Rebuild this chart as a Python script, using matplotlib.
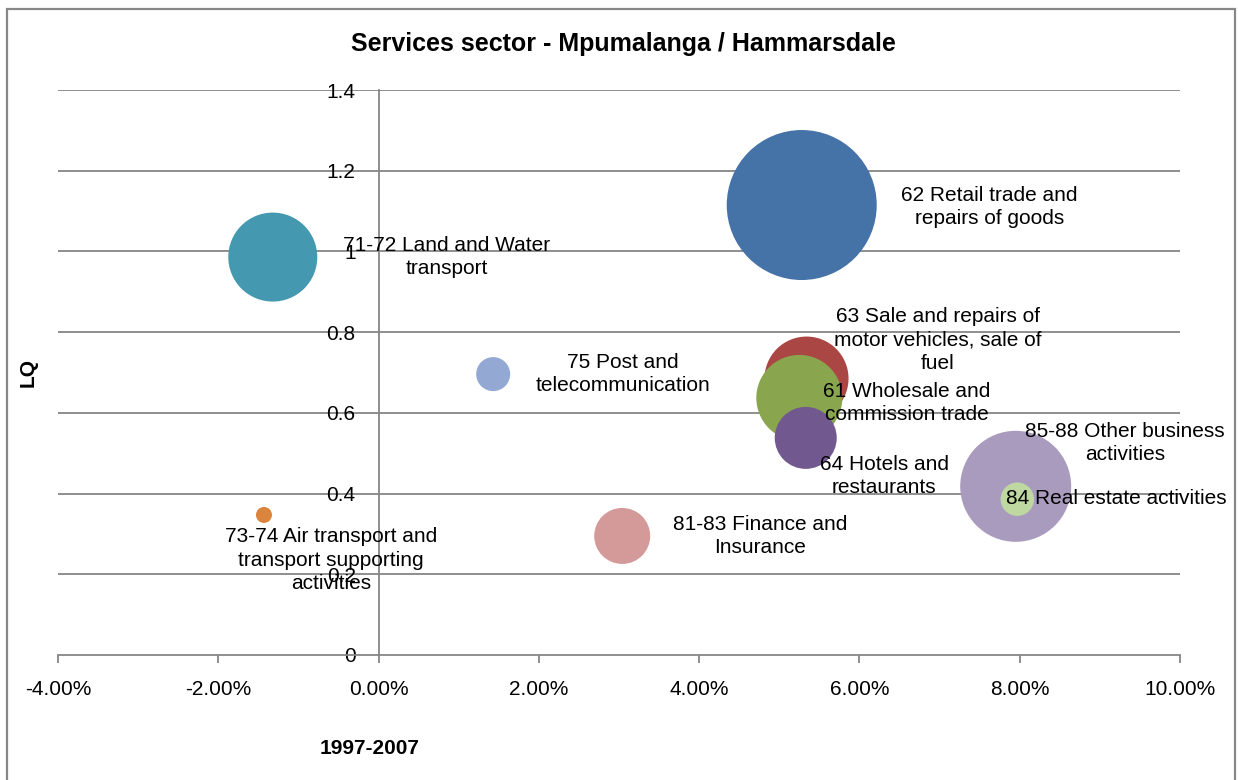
import matplotlib
matplotlib.use('Agg')
import matplotlib.pyplot as plt
from matplotlib.patches import Rectangle
from matplotlib.ticker import PercentFormatter, MultipleLocator

plt.rcParams['font.family'] = ['Liberation Sans', 'DejaVu Sans']
plt.rcParams['axes.unicode_minus'] = False

# Sector data (growth 1997-2007, LQ, relative bubble size)
sectors = ['62 Retail trade and\nrepairs of goods',
           '85-88 Other business\nactivities',
           '71-72 Land and Water\ntransport',
           '63 Sale and repairs of\nmotor vehicles, sale of\nfuel',
           '61 Wholesale and\ncommission trade',
           '64 Hotels and\nrestaurants',
           '81-83 Finance and\nInsurance',
           '75 Post and\ntelecommunication',
           '84 Real estate activities',
           '73-74 Air transport and\ntransport supporting\nactivities']
growth = [0.0528, 0.0795, -0.0132, 0.0534, 0.0525, 0.0533, 0.0304, 0.0143, 0.0797, -0.0143]
lq = [1.115, 0.418, 0.986, 0.685, 0.637, 0.538, 0.295, 0.696, 0.386, 0.347]
bubble = [5625, 3080, 1980, 1764, 1849, 961, 784, 289, 279, 64]

colors = ['#4572A7', '#A99BBD', '#4499B0', '#AA4643', '#89A54E',
          '#71588F', '#D49A99', '#93A9D4', '#BFD7A0', '#DB843D']

# where the data labels sit (data coords)
label_xy = [(0.0762, 1.110), (0.0931, 0.525), (0.0085, 0.986), (0.0698, 0.780),
            (0.0659, 0.624), (0.0631, 0.444), (0.0476, 0.295), (0.0305, 0.696),
            (0.0920, 0.387), (-0.0059, 0.235)]

fig = plt.figure(figsize=(12.38, 7.80), dpi=100)
ax = fig.add_axes([58 / 1238, 125 / 780, 1122 / 1238, 565 / 780])

grid_c = '#868686'
ax.set_xlim(-0.04, 0.10)
ax.set_ylim(0, 1.4)
ax.xaxis.set_major_locator(MultipleLocator(0.02))
ax.xaxis.set_major_formatter(PercentFormatter(1.0, decimals=2))
ax.set_yticks([0, 0.2, 0.4, 0.6, 0.8, 1.0, 1.2, 1.4])
ax.set_yticklabels(['0', '0.2', '0.4', '0.6', '0.8', '1', '1.2', '1.4'])

for y in [0.2, 0.4, 0.6, 0.8, 1.0, 1.2, 1.4]:
    ax.axhline(y, color=grid_c, lw=1.3, zorder=0)

for s in ['top', 'right']:
    ax.spines[s].set_visible(False)
ax.spines['left'].set_position(('data', 0))
ax.spines['left'].set_color(grid_c)
ax.spines['left'].set_linewidth(1.3)
ax.spines['bottom'].set_color(grid_c)
ax.spines['bottom'].set_linewidth(1.3)
ax.spines['left'].set_zorder(0)

ax.tick_params(axis='x', direction='out', length=6, width=1.3, color=grid_c,
               labelsize=15, pad=12)
ax.tick_params(axis='y', direction='out', length=0, labelsize=15, pad=16.5)

for i in range(len(sectors)):
    ax.scatter(growth[i], lq[i], s=bubble[i] * 2.0736, color=colors[i],
               edgecolors='none', zorder=3)
    ax.text(label_xy[i][0], label_xy[i][1], sectors[i], ha='center', va='center',
            fontsize=15, linespacing=1.3, zorder=5)

fig.text(623 / 1238, 1 - 44 / 780, 'Services sector - Mpumalanga / Hammarsdale',
         ha='center', va='center', fontsize=18, fontweight='bold')
fig.text(28 / 1238, 1 - 372 / 780, 'LQ', rotation=90, ha='center', va='center',
         fontsize=15, fontweight='bold')
fig.text(370 / 1238, 1 - 748 / 780, '1997-2007', ha='center', va='center',
         fontsize=15, fontweight='bold')

fig.patches.append(Rectangle((7 / 1238, -0.05), 1228 / 1238, 1 - 9 / 780 + 0.05,
                             transform=fig.transFigure, fill=False,
                             edgecolor='#888888', lw=1.6))

fig.savefig('out.png', dpi=100)
